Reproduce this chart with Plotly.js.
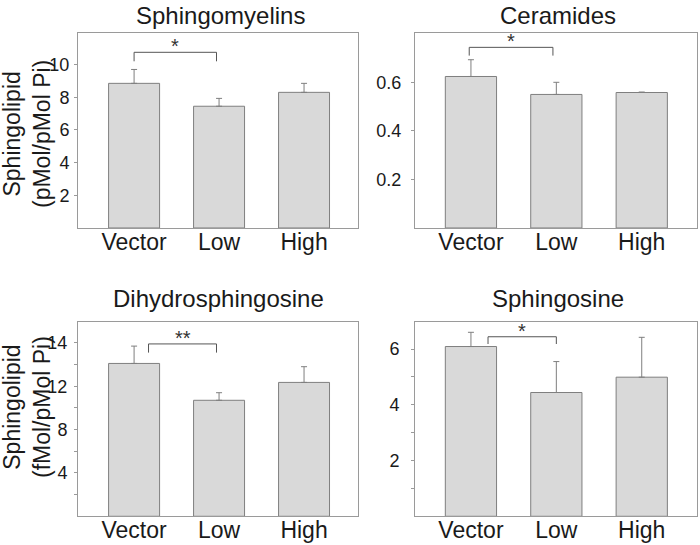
<!DOCTYPE html>
<html>
<head>
<meta charset="utf-8">
<script src="https://cdn.plot.ly/plotly-3.0.1.min.js"></script>
<style>
  html, body { margin: 0; padding: 0; background: #fff; }
  #plot { width: 700px; height: 545px; }
</style>
</head>
<body>
<div id="plot"></div>
<script>
// categories shared by all four panels
const categories = ['Vector', 'Low', 'High'];
const positions = [0, 1, 2];

// Sphingomyelins (pMol/pMol Pi)
const smValues = [8.85, 7.45, 8.3];
const smErr = [0.85, 0.48, 0.55];

// Ceramides
const cerValues = [0.624, 0.55, 0.558];
const cerErr = [0.069, 0.05, 0.002];

// Dihydrosphingosine (fMol/pMol Pi)
const dhValues = [14.1, 10.7, 12.35];
const dhErr = [1.6, 0.7, 1.45];

// Sphingosine
const soValues = [6.09, 4.44, 4.99];
const soErr = [0.51, 1.11, 1.43];

// y tick labels (the dihydro panel prints "14" at its top tick)
const smTicks = [2, 4, 6, 8, 10];
const cerTicks = [0.2, 0.4, 0.6];
const dhTicks = [4, 8, 12, 16];
const dhTickText = ['4', '8', '12', '14'];
const soTicks = [2, 4, 6];

// significance brackets: [from, to, top, legBottom, label]
const smSig = [0, 0.97, 10.75, 10.2, '*'];
const cerSig = [-0.02, 0.96, 0.744, 0.71, '*'];
const dhSig = [0.17, 0.97, 15.9, 15.1, '**'];
const soSig = [0.2, 1.0, 6.44, 6.18, '*'];

const FONT = 'Liberation Sans, Arial, sans-serif';
const barFill = '#d9d9d9';
const barLine = '#7f7f7f';
const axisGray = '#9a9a9a';

function barTrace(values, err, xa, ya) {
    return {
        type: 'bar',
        x: positions,
        y: values,
        width: 0.6,
        xaxis: xa,
        yaxis: ya,
        marker: { color: barFill, line: { color: barLine, width: 1 } },
        error_y: {
            type: 'data',
            symmetric: false,
            array: err,
            arrayminus: [0, 0, 0],
            color: barLine,
            thickness: 1,
            width: 3
        },
        hoverinfo: 'skip',
        showlegend: false
    };
}

function xAxis(domain, range, anchor) {
    return {
        domain: domain,
        range: range,
        anchor: anchor,
        tickvals: positions,
        ticktext: categories,
        ticks: '',
        ticklabelstandoff: -7,
        showline: true,
        mirror: true,
        linecolor: axisGray,
        linewidth: 1,
        showgrid: false,
        zeroline: false,
        tickfont: { family: FONT, size: 23, color: '#1a1a1a' },
        fixedrange: true
    };
}

function yAxis(domain, range, anchor, tickvals, ticktext, minorVals, standoff) {
    let ax = {
        domain: domain,
        range: range,
        anchor: anchor,
        tickvals: tickvals,
        ticks: 'outside',
        ticklen: 3,
        tickcolor: axisGray,
        ticklabelstandoff: standoff,
        showline: true,
        mirror: true,
        linecolor: axisGray,
        linewidth: 1,
        showgrid: false,
        zeroline: false,
        tickfont: { family: FONT, size: 18, color: '#1a1a1a' },
        fixedrange: true
    };
    if (ticktext) ax.ticktext = ticktext;
    if (minorVals) {
        ax.minor = { tickvals: minorVals, ticks: 'outside', ticklen: 3, tickcolor: axisGray, showgrid: false };
    }
    return ax;
}

function bracket(sig, xa, ya) {
    return {
        type: 'path',
        xref: xa,
        yref: ya,
        path: 'M ' + sig[0] + ',' + sig[3] + ' L ' + sig[0] + ',' + sig[2] +
              ' L ' + sig[1] + ',' + sig[2] + ' L ' + sig[1] + ',' + sig[3],
        line: { color: '#555', width: 1 }
    };
}

function star(sig, xa, ya) {
    return {
        xref: xa, yref: ya,
        x: (sig[0] + sig[1]) / 2,
        y: sig[2],
        yanchor: 'bottom',
        yshift: -7,
        text: sig[4],
        showarrow: false,
        font: { family: FONT, size: 20, color: '#333' }
    };
}

function title(text, x, y) {
    return {
        xref: 'paper', yref: 'paper', x: x, y: y,
        xanchor: 'center', yanchor: 'middle',
        text: text, showarrow: false,
        font: { family: FONT, size: 24, color: '#1a1a1a' }
    };
}

function yTitle(text, y) {
    return {
        xref: 'paper', yref: 'paper', x: 27 / 700, y: y,
        xanchor: 'center', yanchor: 'middle',
        textangle: -90,
        text: text, showarrow: false,
        font: { family: FONT, size: 23, color: '#1a1a1a' }
    };
}

const data = [
    barTrace(smValues, smErr, 'x', 'y'),
    barTrace(cerValues, cerErr, 'x2', 'y2'),
    barTrace(dhValues, dhErr, 'x3', 'y3'),
    barTrace(soValues, soErr, 'x4', 'y4')
];

const leftX = [78 / 700, 358 / 700];
const rightX = [415 / 700, 697 / 700];
const topY = [0.5817, 0.9394];
const botY = [0.0527, 0.4097];

const layout = {
    width: 700,
    height: 545,
    margin: { l: 0, r: 0, t: 0, b: 0 },
    paper_bgcolor: '#fff',
    plot_bgcolor: '#fff',
    showlegend: false,
    bargap: 0,
    xaxis: xAxis(leftX, [-0.66, 2.635], 'y'),
    yaxis: yAxis(topY, [0, 11.93], 'x', smTicks, null, null, 1),
    xaxis2: xAxis(rightX, [-0.655, 2.647], 'y2'),
    yaxis2: yAxis(topY, [0, 0.803], 'x2', cerTicks, null, null, 6),
    xaxis3: xAxis(leftX, [-0.66, 2.635], 'y3'),
    yaxis3: yAxis(botY, [0, 17.95], 'x3', dhTicks, dhTickText, [2, 6, 10, 14], 3),
    xaxis4: xAxis(rightX, [-0.655, 2.647], 'y4'),
    yaxis4: yAxis(botY, [0, 6.98], 'x4', soTicks, null, [1, 3, 5], 8),
    shapes: [
        bracket(smSig, 'x', 'y'),
        bracket(cerSig, 'x2', 'y2'),
        bracket(dhSig, 'x3', 'y3'),
        bracket(soSig, 'x4', 'y4')
    ],
    annotations: [
        star(smSig, 'x', 'y'),
        star(cerSig, 'x2', 'y2'),
        star(dhSig, 'x3', 'y3'),
        star(soSig, 'x4', 'y4'),
        title('Sphingomyelins', 220 / 700, 1 - 15 / 545),
        title('Ceramides', 558 / 700, 1 - 15 / 545),
        title('Dihydrosphingosine', 219 / 700, 1 - 298 / 545),
        title('Sphingosine', 558 / 700, 1 - 298 / 545),
        yTitle('Sphingolipid<br>(pMol/pMol Pi)', 1 - 134 / 545),
        yTitle('Sphingolipid<br>(fMol/pMol Pi)', 1 - 407 / 545)
    ]
};

Plotly.newPlot(document.getElementById('plot'), data, layout, { staticPlot: true, displayModeBar: false });
</script>
</body>
</html>
